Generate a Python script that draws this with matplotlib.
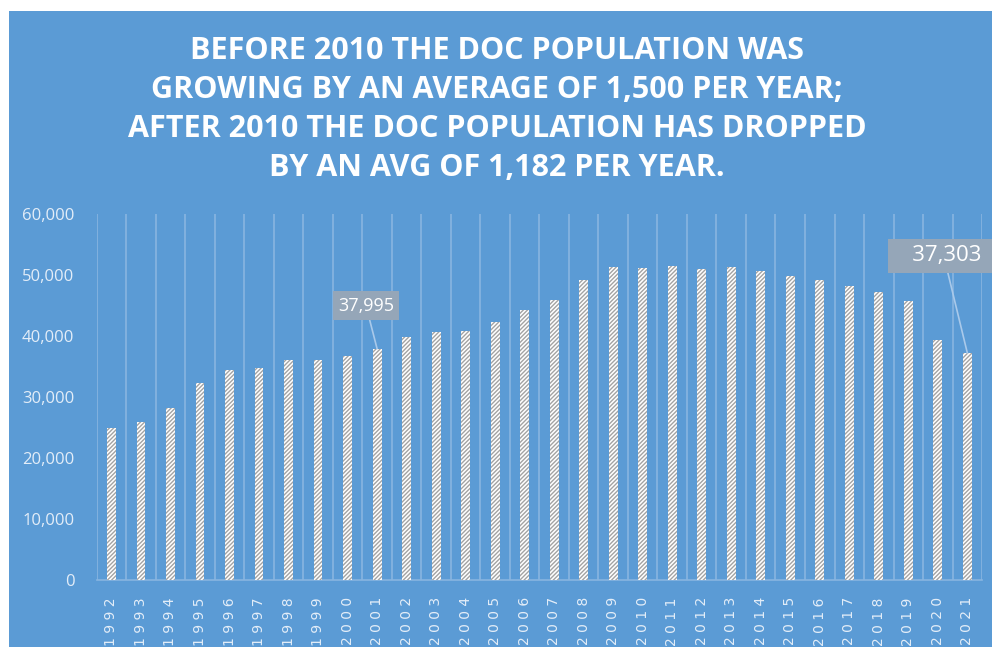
import matplotlib
matplotlib.use("Agg")
import matplotlib.pyplot as plt
from matplotlib.patches import Rectangle
from matplotlib.ticker import FuncFormatter
import numpy as np

# data
years = [str(y) for y in range(1992, 2022)]
population = [
    24950, 25980, 28230, 32330, 34510, 34840, 36200, 36200, 36750, 37995,
    39970, 40690, 40850, 42380, 44290, 45930, 49210, 51440, 51230, 51610,
    51070, 51440, 50740, 49870, 49210, 48330, 47300, 45770, 39480, 37303,
]
title_lines = [
    "BEFORE 2010 THE DOC POPULATION WAS",
    "GROWING BY AN AVERAGE OF 1,500 PER YEAR;",
    "AFTER 2010 THE DOC POPULATION HAS DROPPED",
    "BY AN AVG OF 1,182 PER YEAR.",
]
callouts = {"2001": 37995, "2021": 37303}

BLUE = "#5b9bd5"
LIGHT = "#e3edf8"
GRID = "#88b5e1"

plt.rcParams["font.family"] = ["Open Sans", "DejaVu Sans"]

fig = plt.figure(figsize=(9.92, 6.47), dpi=100)
fig.patch.set_facecolor("white")
fig.patches.append(Rectangle((0.009, 0.0), 0.991, 0.983, transform=fig.transFigure,
                             facecolor=BLUE, edgecolor="none", zorder=-5))

ax = fig.add_axes([0.0975, 0.1028, 0.8925, 0.5657])
ax.set_zorder(2)
ax.set_facecolor("none")

x = np.arange(len(years))
ax.bar(x, population, width=0.3, color="white", edgecolor="#a3a3a3",
       linewidth=0, hatch="////////", zorder=3)

ax.set_xlim(-0.5, len(years) - 0.5)
ax.set_ylim(0, 60000)
ax.set_yticks(np.arange(0, 60001, 10000))
ax.yaxis.set_major_formatter(FuncFormatter(lambda v, _: f"{int(v):,}"))
ax.tick_params(axis="y", length=0, pad=16, labelsize=12, labelcolor=LIGHT)

# year labels, spaced out and read bottom-to-top like the original
ax.set_xticks(x)
ax.set_xticklabels([" ".join(y) for y in years], rotation=90)
for lbl in ax.get_xticklabels():
    lbl.set_fontfamily("DejaVu Sans")
    lbl.set_fontsize(10)
    lbl.set_color(LIGHT)
ax.tick_params(axis="x", length=0, pad=12)

# vertical gridlines at category boundaries
ax.set_xticks(np.arange(-0.5, len(years), 1), minor=True)
ax.tick_params(axis="x", which="minor", length=0)
ax.grid(True, which="minor", axis="x", color=GRID, linewidth=1.2, zorder=1)
ax.grid(False, which="major")

for side in ["top", "right", "left"]:
    ax.spines[side].set_visible(False)
ax.spines["bottom"].set_color(GRID)
ax.spines["bottom"].set_linewidth(1.2)

# callout labels
ann_style = {"2001": (13, (-8, 31)), "2021": (16, (-17, 70))}
for yr, val in callouts.items():
    fs, off = ann_style[yr]
    label = f"{val:,}" if yr == "2001" else f"   {val:,}  "
    ax.annotate(label, xy=(years.index(yr), val), xytext=off,
                textcoords="offset points", ha="center", va="center",
                fontsize=fs, color="white",
                bbox=dict(boxstyle="square,pad=0.3", facecolor="#95a6b8",
                          edgecolor="none"),
                arrowprops=dict(arrowstyle="-", color="#a9c9ea", lw=1.2,
                                shrinkA=0, shrinkB=0),
                zorder=5, annotation_clip=False)

# title
for i, line in enumerate(title_lines):
    fig.text(0.501, 1 - (51 + i * 39) / 647, line, ha="center", va="center",
             fontsize=22, fontweight="bold", color="white")

fig.savefig("out.png", dpi=100, facecolor="white")
